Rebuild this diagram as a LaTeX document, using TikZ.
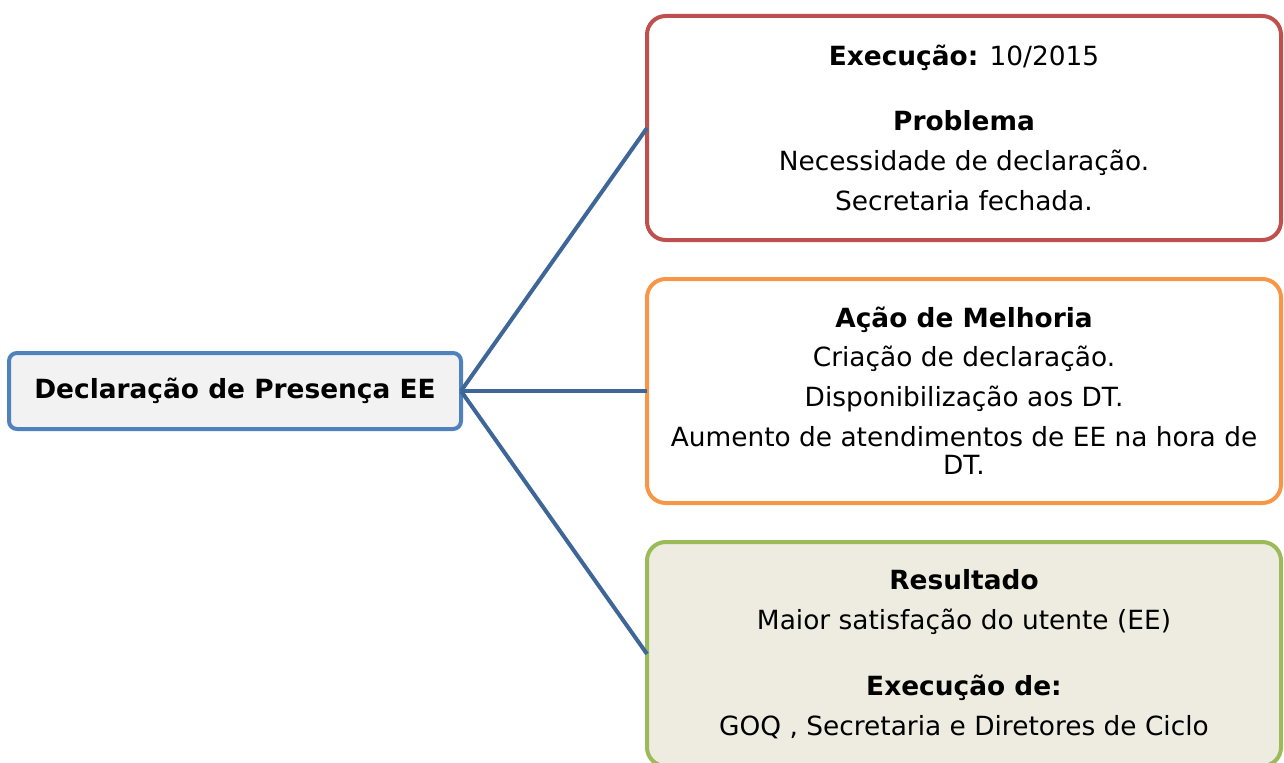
\documentclass[tikz,border=0pt]{standalone}
\usepackage{fontspec}
\setmainfont{DejaVu Sans}
\usepackage{tikz}
\usetikzlibrary{positioning}
\definecolor{hubblue}{HTML}{4F81BD}
\definecolor{hubfill}{HTML}{F2F2F2}
\definecolor{linkblue}{HTML}{3E6699}
\definecolor{probred}{HTML}{C0504D}
\definecolor{acaoorange}{HTML}{F79646}
\definecolor{resgreen}{HTML}{9BBB59}
\definecolor{resfill}{HTML}{EEECE1}

\begin{document}
\begin{tikzpicture}[
    x = 0.75pt, y = -0.75pt,
    outer sep = 0pt,
    every node/.style={font=\fontsize{19.8}{21}\selectfont},
    hub/.style={rectangle, rounded corners=6pt, draw=hubblue, fill=hubfill,
        line width=3pt, minimum width=339pt, minimum height=57pt},
    infobox/.style={rectangle, rounded corners=14pt, line width=3pt,
        fill=white, align=center, minimum width=475.5pt, minimum height=168pt},
    link/.style={draw=linkblue, line width=3pt}
]
    \useasboundingbox (0,0) rectangle (1284,763);

    \node[hub] (decl) at (235,391) {\textbf{Declaração de Presença EE}};
    \node[infobox, draw=acaoorange, right=139.5pt of decl] (acao)
        {\textbf{Ação de Melhoria}\\[8pt]
         Criação de declaração.\\[9pt]
         Disponibilização aos DT.\\[9pt]
         Aumento de atendimentos de EE na hora de\\
         DT.};
    \node[infobox, draw=probred, above=29.25pt of acao] (prob)
        {\textbf{Execução:} 10/2015\\[28pt]
         \textbf{Problema}\\[9pt]
         Necessidade de declaração.\\[9pt]
         Secretaria fechada.};
    \node[infobox, draw=resgreen, fill=resfill, below=29.25pt of acao] (res)
        {\textbf{Resultado}\\[9pt]
         Maior satisfação do utente (EE)\\[28pt]
         \textbf{Execução de:}\\[9pt]
         GOQ , Secretaria e Diretores de Ciclo};

    \path[link]
        (decl.east) edge (prob.west)
        (decl.east) edge (acao.west)
        (decl.east) edge (res.west);
\end{tikzpicture}
\end{document}
